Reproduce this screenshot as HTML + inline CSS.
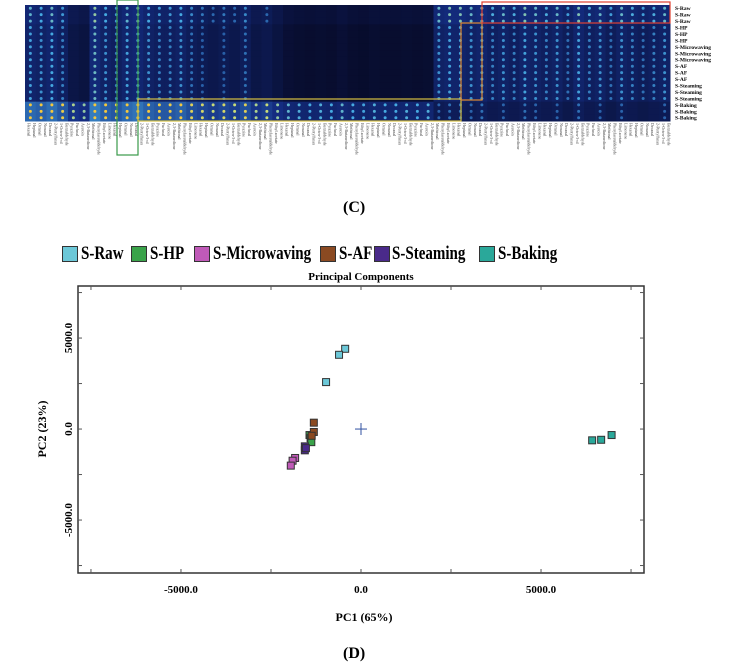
<!DOCTYPE html>
<html><head><meta charset="utf-8">
<style>
body{margin:0;background:#fff;}
#root{position:relative;width:730px;height:665px;overflow:hidden;font-family:"Liberation Serif",serif;}
.lg{position:absolute;top:243px;font-weight:bold;font-size:19px;transform:scaleX(0.79);transform-origin:left;white-space:nowrap;}
.sw{position:absolute;top:246px;width:16px;height:16px;border:1.5px solid #333;box-sizing:border-box;}
</style></head>
<body>
<div id="root">
<svg id="heat" width="730" height="200" style="position:absolute;left:0;top:0"></svg>
<div style="position:absolute;left:343px;top:199px;font-weight:bold;font-size:16px;">(C)</div>

<div class="sw" style="left:62px;background:#6cc8d8"></div>
<div class="lg" style="left:81px">S-Raw</div>
<div class="sw" style="left:131px;background:#3aa34a"></div>
<div class="lg" style="left:150px">S-HP</div>
<div class="sw" style="left:194px;background:#c05ab8"></div>
<div class="lg" style="left:213px">S-Microwaving</div>
<div class="sw" style="left:320px;background:#8b4a22"></div>
<div class="lg" style="left:339px">S-AF</div>
<div class="sw" style="left:374px;background:#4a2a8a"></div>
<div class="lg" style="left:392px">S-Steaming</div>
<div class="sw" style="left:479px;background:#2aa89a"></div>
<div class="lg" style="left:498px">S-Baking</div>

<svg id="pca" width="730" height="665" style="position:absolute;left:0;top:0"></svg>
<div style="position:absolute;left:343px;top:645px;font-weight:bold;font-size:16px;">(D)</div>
</div>
<script>
// ---------- Heatmap data ----------
const heatCols = [0.6,0.55,0.62,0.5,0.3,0.25,0.7,0.55,0.5,0.6,0.65,0.55,0.5,0.5,0.55,0.45,0.4,0.35,0.4,0.35,0.45,0.3,0.35,0.25,0.15,0.12,0.1,0.12,0.1,0.15,0.1,0.08,0.12,0.1,0.1,0.12,0.1,0.12,0.55,0.6,0.6,0.55,0.6,0.5,0.55,0.5,0.6,0.55,0.5,0.55,0.45,0.6,0.5,0.55,0.45,0.55,0.5,0.45,0.5,0.55];
const heatRows = ["S-Raw","S-Raw","S-Raw","S-HP","S-HP","S-HP","S-Microwaving","S-Microwaving","S-Microwaving","S-AF","S-AF","S-AF","S-Steaming","S-Steaming","S-Steaming","S-Baking","S-Baking","S-Baking"];
const rowBoost = [0.05,0.05,0.05,0,0,0,0,0,0,0,0,0,0,0,0,0.35,0.35,0.35];
const colLabels = ["Hexanal","Heptanal","Octanal","Nonanal","Decanal","2-Pentylfuran","1-Octen-3-ol","Benzaldehyde","Pyrazine","Furfural","Acetoin","2,3-Butanedione","Methional","Phenylacetaldehyde","Ethyl acetate","Limonene"];
const heat = document.getElementById('heat');
const NS='http://www.w3.org/2000/svg';
const hx0=25,hx1=670,hy0=5,hy1=121;
const cw=(hx1-hx0)/heatCols.length, rh=(hy1-hy0)/heatRows.length;
function col(v){
  v=Math.max(0,Math.min(1,v));
  const stops=[[0,[6,8,35]],[0.35,[20,45,130]],[0.65,[70,170,225]],[0.85,[200,220,120]],[1,[245,200,60]]];
  for(let i=1;i<stops.length;i++){if(v<=stops[i][0]){const a=stops[i-1],b=stops[i];const t=(v-a[0])/(b[0]-a[0]);
    return 'rgb('+a[1].map((c,k)=>Math.round(c+(b[1][k]-c)*t)).join(',')+')';}}
  return 'rgb(245,200,60)';
}
heatRows.forEach((r,ri)=>{
  heatCols.forEach((v,ci)=>{
    let val=v*0.8+rowBoost[ri]*(ci<38?1.2:0.2);
    if(ri<3 && ci>=38) val+=0.1;
    if(ri>=15 && ci>=38) val=v*0.6;
    const rc=document.createElementNS(NS,'rect');
    rc.setAttribute('x',hx0+ci*cw);rc.setAttribute('y',hy0+ri*rh);
    rc.setAttribute('width',cw+0.5);rc.setAttribute('height',rh+0.5);
    rc.setAttribute('fill',col(val*0.55));
    
    
    heat.appendChild(rc);
    if(val>0.3){
      const d=document.createElementNS(NS,'circle');
      d.setAttribute('cx',hx0+(ci+0.5)*cw);d.setAttribute('cy',hy0+(ri+0.5)*rh);d.setAttribute('r',1.5);
      d.setAttribute('fill',col(val+0.15));
      
      
      heat.appendChild(d);
    }
  });
  const t=document.createElementNS(NS,'text');
  t.setAttribute('x',675);t.setAttribute('y',hy0+(ri+0.8)*rh);t.setAttribute('font-size','5.5');t.setAttribute('font-weight','bold');
  t.setAttribute('font-family','Liberation Serif, serif');t.textContent=r;
  
  
  heat.appendChild(t);
});
for(let i=0;i<heatCols.length*2;i++){
  const x=hx0+(i+0.5)*cw/2;
  const t=document.createElementNS(NS,'text');
  t.setAttribute('transform','translate('+x+',123) rotate(90)');
  t.setAttribute('font-size','4');t.setAttribute('fill','#444');
  t.setAttribute('font-family','Liberation Serif, serif');
  t.textContent=colLabels[i%colLabels.length];
  
  
  heat.appendChild(t);
}
function box(x,y,w,h,c,name){const r=document.createElementNS(NS,'rect');r.setAttribute('x',x);r.setAttribute('y',y);r.setAttribute('width',w);r.setAttribute('height',h);r.setAttribute('fill','none');r.setAttribute('stroke',c);r.setAttribute('stroke-width','1.2');
  
  
  heat.appendChild(r);}
box(117,0,21,155,'#3a9a4a','highlight-box-green');
box(138,99,323,22,'#d8c040','highlight-box-yellow');
box(461,23,21,77,'#e08a30','highlight-box-orange');
box(482,2,188,21,'#e04030','highlight-box-red');

// ---------- PCA data ----------
const groups = ["S-Raw","S-HP","S-Microwaving","S-AF","S-Steaming","S-Baking"];
const groupColors = ["#6cc8d8","#3aa34a","#c05ab8","#8b4a22","#4a2a8a","#2aa89a"];
const pc1 = [[-440,-610,-970],[-1430,-1400,-1380],[-1830,-1900,-1950],[-1310,-1310,-1370],[-1560,-1560,-1530],[6420,6670,6960]];
const pc2 = [[4410,4080,2580],[-330,-500,-720],[-1590,-1740,-2010],[350,-160,-370],[-950,-1170,-1050],[-620,-590,-330]];
const xTicks = [-5000,0,5000];
const yTicks = [5000,0,-5000];
const xDom=[-7860,7860], yDom=[-7910,7860];
const L=78,R=644,T=286,B=573;
const sx=v=>L+(v-xDom[0])/(xDom[1]-xDom[0])*(R-L);
const sy=v=>B-(v-yDom[0])/(yDom[1]-yDom[0])*(B-T);
const pca=document.getElementById('pca');
function el(tag,attrs,name,txt){const e=document.createElementNS(NS,tag);for(const k in attrs)e.setAttribute(k,attrs[k]);
  
  
  if(txt)e.textContent=txt;pca.appendChild(e);return e;}
el('rect',{x:L,y:T,width:R-L,height:B-T,fill:'none',stroke:'#333','stroke-width':1.5},'plot-frame');
el('text',{x:(L+R)/2,y:280,'text-anchor':'middle','font-size':11,'font-weight':'bold','font-family':'Liberation Serif, serif'},'chart-title','Principal Components');
for(let v=-7500;v<=7500;v+=2500){
  el('line',{x1:sx(v),x2:sx(v),y1:B,y2:B-4,stroke:'#555'},'x-tick');
  el('line',{x1:sx(v),x2:sx(v),y1:T,y2:T+4,stroke:'#555'},'x-tick-top');
  el('line',{x1:L,x2:L+4,y1:sy(v),y2:sy(v),stroke:'#555'},'y-tick');
  el('line',{x1:R,x2:R-4,y1:sy(v),y2:sy(v),stroke:'#555'},'y-tick-right');
}
xTicks.forEach(v=>el('text',{x:sx(v),y:593,'text-anchor':'middle','font-size':11,'font-weight':'bold','font-family':'Liberation Serif, serif'},'x-tick-label',v.toFixed(1)));
yTicks.forEach(v=>el('text',{transform:'translate(72,'+sy(v)+') rotate(-90)','text-anchor':'middle','font-size':11,'font-weight':'bold','font-family':'Liberation Serif, serif'},'y-tick-label',v.toFixed(1)));
el('text',{x:(L+R)/2+3,y:621,'text-anchor':'middle','font-size':12,'font-weight':'bold','font-family':'Liberation Serif, serif'},'x-axis-title','PC1 (65%)');
el('text',{transform:'translate(46,'+sy(0)+') rotate(-90)','text-anchor':'middle','font-size':12,'font-weight':'bold','font-family':'Liberation Serif, serif'},'y-axis-title','PC2 (23%)');
el('line',{x1:sx(0)-6,x2:sx(0)+6,y1:sy(0),y2:sy(0),stroke:'#3050a0','stroke-width':1},'origin-marker-h');
el('line',{x1:sx(0),x2:sx(0),y1:sy(0)-6,y2:sy(0)+6,stroke:'#3050a0','stroke-width':1},'origin-marker-v');
groups.forEach((g,gi)=>{
  pc1[gi].forEach((x,i)=>{
    el('rect',{x:sx(x)-3.5,y:sy(pc2[gi][i])-3.5,width:7,height:7,fill:groupColors[gi],stroke:'#333','stroke-width':1},'point-'+g.toLowerCase());
  });
});
</script>
</body></html>
